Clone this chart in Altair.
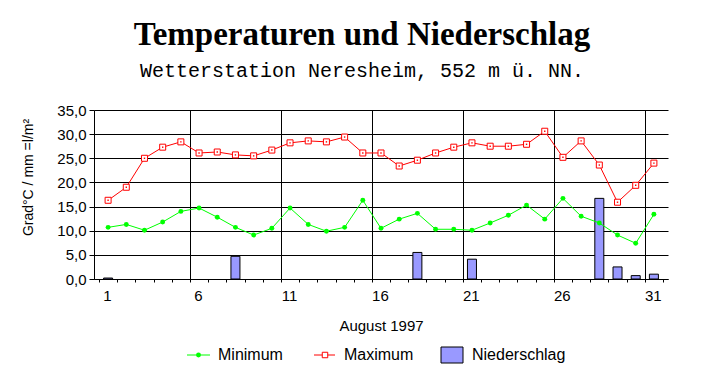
import altair as alt
import pandas as pd

days = list(range(1, 32))
t_min = [10.7, 11.3, 10.1, 11.8, 14.0, 14.7, 12.8, 10.7, 9.1, 10.5, 14.7, 11.3, 9.9, 10.7, 16.3,
         10.5, 12.4, 13.6, 10.3, 10.3, 10.1, 11.6, 13.2, 15.3, 12.4, 16.7, 13.0, 11.6, 9.1, 7.4, 13.4]
t_max = [16.3, 19.0, 25.0, 27.3, 28.4, 26.1, 26.3, 25.7, 25.5, 26.7, 28.2, 28.6, 28.4, 29.4, 26.1,
         26.1, 23.4, 24.6, 26.1, 27.3, 28.2, 27.5, 27.5, 27.9, 30.6, 25.2, 28.6, 23.6, 15.9, 19.4, 24.0]
rain = [0.2, 0, 0, 0, 0, 0, 0, 4.7, 0, 0, 0, 0, 0, 0, 0,
        0, 0, 5.5, 0, 0, 4.1, 0, 0, 0, 0, 0, 0, 16.7, 2.5, 0.7, 1.0]
y_ticks = [0, 5, 10, 15, 20, 25, 30, 35]
x_label_days = [1, 6, 11, 16, 21, 26, 31]
legend_labels = ["Minimum", "Maximum", "Niederschlag"]

df = pd.DataFrame({"day": days, "tmin": t_min, "tmax": t_max, "rain": rain})
rain_df = df[df["rain"] > 0]

GREEN = "#00ff00"
RED = "#ff0000"
BARFILL = "#9999ff"
FONT = "Liberation Sans"

bounds = [d - 0.5 for d in days] + [days[-1] + 0.5]
label_test = " || ".join(f"datum.value == {d - 0.5}" for d in x_label_days)
grid_test = " || ".join(f"datum.value == {d - 0.5}" for d in x_label_days[1:])

x_axis = alt.Axis(
    values=bounds,
    labelExpr=f"({label_test}) ? '' + (datum.value + 0.5) : ''",
    labelOffset=8, labelOverlap=False, labelBound=False, labelFlush=False,
    labelFont=FONT, labelFontSize=15, labelPadding=6,
    tickSize=3, tickColor="black",
    grid=True,
    gridColor={"condition": {"test": grid_test, "value": "black"}, "value": "transparent"},
    title="August 1997", titleFont=FONT, titleFontSize=15, titleFontWeight="normal",
    titleY=46, titleBaseline="middle",
)
x_scale = alt.Scale(domain=[0.5, 31.5], nice=False, zero=False)

y_axis = alt.Axis(
    values=y_ticks,
    labelExpr="replace(format(datum.value, '.1f'), '.', ',')",
    labelOverlap=False, labelBound=False, labelFlush=False,
    labelFont=FONT, labelFontSize=15, labelPadding=3,
    tickSize=5, tickColor="black",
    grid=True, gridColor="black",
    title="Grad°C / mm =l/m²", titleFont=FONT, titleFontSize=14, titleFontWeight="normal",
    titleX=-66, titleY=67, titleBaseline="middle", titleAlign="center", titleAngle=-90,
)
y_scale = alt.Scale(domain=[0, 35], nice=False, zero=True)


def X():
    return alt.X("day:Q", scale=x_scale, axis=x_axis)


def Y(field):
    return alt.Y(f"{field}:Q", scale=y_scale, axis=y_axis)


base = alt.Chart(df)

bars = alt.Chart(rain_df).mark_bar(size=9, fill=BARFILL, stroke="black", strokeWidth=1).encode(
    x=X(), y=Y("rain"))
min_line = base.mark_line(color=GREEN, strokeWidth=1).encode(x=X(), y=Y("tmin"))
min_pts = base.mark_point(filled=True, shape="circle", size=24, color=GREEN, opacity=1).encode(
    x=X(), y=Y("tmin"))
max_line = base.mark_line(color=RED, strokeWidth=1).encode(x=X(), y=Y("tmax"))
max_pts = base.mark_point(shape="square", size=36, filled=True, fill="white", stroke=RED,
                          strokeWidth=1, opacity=1).encode(x=X(), y=Y("tmax"))
max_dot = base.mark_point(shape="square", size=2, filled=True, color=RED, opacity=1).encode(
    x=X(), y=Y("tmax"))

# legend
leg = pd.DataFrame({"label": legend_labels})
one = pd.DataFrame({"label": [legend_labels[0]]})
LY = 245
leg_min_line = alt.Chart(one).mark_rule(color=GREEN, strokeWidth=1).encode(
    x=alt.value(93), x2=alt.value(116), y=alt.value(LY))
leg_min_pt = alt.Chart(one).mark_point(filled=True, shape="circle", size=24, color=GREEN, opacity=1).encode(
    x=alt.value(104.5), y=alt.value(LY))
leg_max_line = alt.Chart(one).mark_rule(color=RED, strokeWidth=1).encode(
    x=alt.value(220), x2=alt.value(241), y=alt.value(LY))
leg_max_pt = alt.Chart(one).mark_point(shape="square", size=30, filled=True, fill="white", stroke=RED,
                                       strokeWidth=1, opacity=1).encode(x=alt.value(231), y=alt.value(LY))
leg_box = alt.Chart(one).mark_rect(fill=BARFILL, stroke="black", strokeWidth=1).encode(
    x=alt.value(347), x2=alt.value(369), y=alt.value(LY - 8), y2=alt.value(LY + 8))
text_x = {"Minimum": 124, "Maximum": 250, "Niederschlag": 378}
leg_texts = [
    alt.Chart(leg).transform_filter(alt.datum.label == lab).mark_text(
        font=FONT, fontSize=16, align="left", baseline="middle", color="black"
    ).encode(text="label:N", x=alt.value(text_x[lab]), y=alt.value(LY))
    for lab in legend_labels
]

chart = alt.layer(
    bars, min_line, min_pts, max_line, max_pts, max_dot,
    leg_min_line, leg_min_pt, leg_max_line, leg_max_pt, leg_box, *leg_texts,
).properties(
    width=574, height=169,
    autosize=alt.AutoSizeParams(type="none"),
    padding={"left": 94, "top": 110, "right": 57, "bottom": 105},
    background="white",
    title=alt.TitleParams(
        text="Temperaturen und Niederschlag",
        subtitle="Wetterstation Neresheim, 552 m ü. NN.",
        font="Liberation Serif", fontSize=33, fontWeight="bold", color="black",
        subtitleFont="Liberation Mono", subtitleFontSize=20, subtitleColor="black",
        subtitlePadding=9, anchor="middle", dx=-19, offset=22,
    ),
).configure_view(stroke="transparent").configure_axis(
    domainColor="black", labelColor="black", titleColor="black", gridWidth=1, domainWidth=1,
    gridOpacity=1,
)

chart.save("out.html", embed_options={"renderer": "svg", "actions": False})
